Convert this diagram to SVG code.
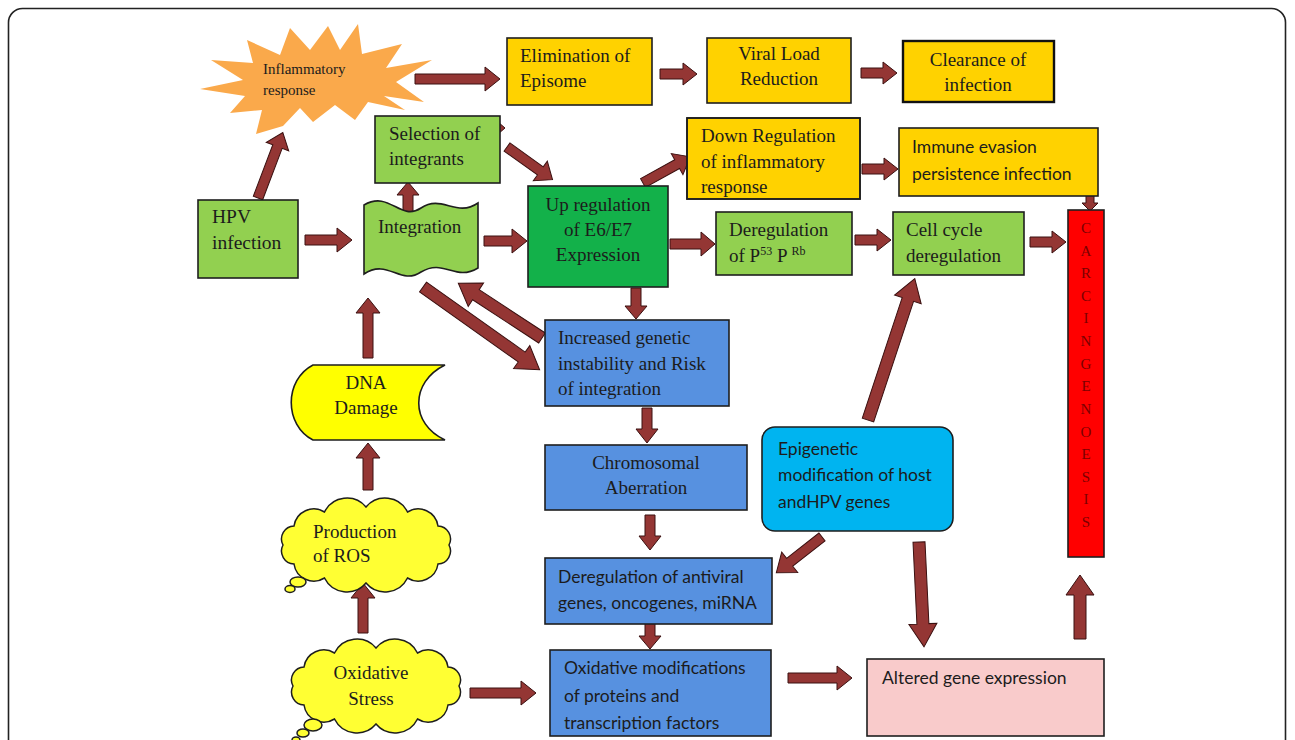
<svg xmlns="http://www.w3.org/2000/svg" width="1295" height="740" viewBox="0 0 1295 740">
<defs>
<style>
.box{stroke:#1e1e1e;stroke-width:1.6}
.lg{fill:#92D050}
.dg{fill:#13B14A}
.gold{fill:#FFD200}
.blue{fill:#5791E0}
.cyan{fill:#00B4F0}
.t{font-family:"Liberation Serif","Times New Roman",serif;font-size:19px;fill:#1c1c1c}
.s{font-family:Lato,"Liberation Sans",sans-serif;font-size:17.5px;fill:#1c1c1c}
.arr{fill:#943634;stroke:#3a1010;stroke-width:1}
.cl{fill:#FFFF33;stroke:#1e1e1e;stroke-width:1.5}
</style>
</defs>
<rect width="1295" height="740" fill="#ffffff"/>
<rect x="8.5" y="8.5" width="1277" height="780" rx="14" fill="none" stroke="#222" stroke-width="1.6"/>

<g id="connectors">
<path class="arr" transform="translate(258,198) rotate(-69.25)" d="M0,-5H55V-12L70,0L55,12V5H0Z"/>
<path class="arr" transform="translate(415,79)" d="M0,-5H70V-12L85,0L70,12V5H0Z"/>
<path class="arr" transform="translate(660,74)" d="M0,-5H23V-11L37,0L23,11V5H0Z"/>
<path class="arr" transform="translate(861,73)" d="M0,-5H22V-11L36,0L22,11V5H0Z"/>
<path class="arr" transform="translate(305,240)" d="M0,-5H32V-12L47,0L32,12V5H0Z"/>
<path class="arr" transform="translate(408,215) rotate(-90)" d="M0,-5H20V-11L33,0L20,11V5H0Z"/>
<path class="arr" transform="translate(507,147) rotate(35.65)" d="M0,-5H41V-12L56,0L41,12V5H0Z"/>
<path class="arr" transform="translate(484,241)" d="M0,-5H28V-12L43,0L28,12V5H0Z"/>
<path class="arr" transform="translate(643,183) rotate(-28.95)" d="M0,-5H39V-12L54,0L39,12V5H0Z"/>
<path class="arr" transform="translate(862,169)" d="M0,-5H22V-11L36,0L22,11V5H0Z"/>
<path class="arr" transform="translate(1090,194) rotate(90)" d="M0,-4H9V-8L17,0L9,8V4H0Z"/>
<path class="arr" transform="translate(670,244)" d="M0,-5H31V-12L45,0L31,12V5H0Z"/>
<path class="arr" transform="translate(855,240)" d="M0,-5H22V-11L36,0L22,11V5H0Z"/>
<path class="arr" transform="translate(1030,242)" d="M0,-5H22V-11L36,0L22,11V5H0Z"/>
<path class="arr" transform="translate(636,288) rotate(90)" d="M0,-5H18V-11L31,0L18,11V5H0Z"/>
<path class="arr" transform="translate(423,287) rotate(35.36)" d="M0,-6H121V-14L143,0L121,14V6H0Z"/>
<path class="arr" transform="translate(542,338) rotate(213.2)" d="M0,-6H79V-14L100,0L79,14V6H0Z"/>
<path class="arr" transform="translate(647,408) rotate(90)" d="M0,-5H21V-11L35,0L21,11V5H0Z"/>
<path class="arr" transform="translate(650,515) rotate(90)" d="M0,-5H21V-11L35,0L21,11V5H0Z"/>
<path class="arr" transform="translate(650,617) rotate(90)" d="M0,-5H19V-11L32,0L19,11V5H0Z"/>
<path class="arr" transform="translate(868,420) rotate(-71.7)" d="M0,-6H127V-14L149,0L127,14V6H0Z"/>
<path class="arr" transform="translate(822,537) rotate(141.95)" d="M0,-5H41V-13L58,0L41,13V5H0Z"/>
<path class="arr" transform="translate(919,542) rotate(87.27)" d="M0,-6H82V-14L105,0L82,14V6H0Z"/>
<path class="arr" transform="translate(1080,639) rotate(-90)" d="M0,-6H44V-14L64,0L44,14V6H0Z"/>
<path class="arr" transform="translate(788,678)" d="M0,-5H49V-12L64,0L49,12V5H0Z"/>
<path class="arr" transform="translate(368,358) rotate(-90)" d="M0,-5H45V-12L60,0L45,12V5H0Z"/>
<path class="arr" transform="translate(368,490) rotate(-90)" d="M0,-5H32V-12L47,0L32,12V5H0Z"/>
<path class="arr" transform="translate(363,633) rotate(-90)" d="M0,-5H35V-12L50,0L35,12V5H0Z"/>
<path class="arr" transform="translate(470,693)" d="M0,-5H51V-12L66,0L51,12V5H0Z"/>
<path class="arr" d="M498,122 L505,128 L498,134 Z"/>
</g>

<g id="inflammatory">
<polygon fill="#FAA94B" points="200,89 243,80 211,60 253,63 247,40 280,55 290,28 310,50 328,26 340,50 358,24 362,54 402,44 386,68 432,60 396,82 424,102 384,96 405,110 368,102 355,120 335,105 313,122 300,108 283,126 256,134 262,110 230,113 245,96"/>
<text class="t" style="font-size:15px" x="263" y="74">Inflammatory</text>
<text class="t" style="font-size:15px" x="263" y="95">response</text>
</g>

<g id="elimination">
<rect class="box gold" x="507" y="38" width="145" height="67"/>
<text class="t" x="520" y="62">Elimination of</text>
<text class="t" x="520" y="87">Episome</text>
</g>

<g id="viral-load">
<rect class="box gold" x="707" y="38" width="144" height="65"/>
<text class="t" x="779" y="60" text-anchor="middle">Viral Load</text>
<text class="t" x="779" y="85" text-anchor="middle">Reduction</text>
</g>

<g id="clearance">
<rect class="gold" x="903" y="41" width="151" height="61" stroke="#111" stroke-width="2.4"/>
<text class="t" x="978" y="66" text-anchor="middle">Clearance of</text>
<text class="t" x="978" y="91" text-anchor="middle">infection</text>
</g>

<g id="hpv-infection">
<rect class="box lg" x="198" y="200" width="100" height="78"/>
<text class="t" style="font-size:19.5px" x="212" y="223">HPV</text>
<text class="t" style="font-size:19.5px" x="212" y="249">infection</text>
</g>

<g id="integration">
<path class="box lg" d="M364,205 C390,190 400,222 421,208 C442,194 456,218 478,203 L478,268 C455,282 444,258 421,272 C400,286 388,258 364,274 Z"/>
<text class="t" x="378" y="233">Integration</text>
</g>

<g id="selection">
<rect class="box lg" x="375" y="116" width="125" height="67"/>
<text class="t" x="389" y="140">Selection of</text>
<text class="t" x="389" y="165">integrants</text>
</g>

<g id="up-regulation">
<rect class="box dg" x="528" y="186" width="140" height="101"/>
<text class="t" x="598" y="211" text-anchor="middle">Up regulation</text>
<text class="t" x="598" y="236" text-anchor="middle">of E6/E7</text>
<text class="t" x="598" y="261" text-anchor="middle">Expression</text>
</g>

<g id="down-regulation">
<clipPath id="cpDown"><rect x="687" y="118" width="173" height="81"/></clipPath>
<rect class="box gold" x="687" y="118" width="173" height="81"/>
<g clip-path="url(#cpDown)">
<text class="t" x="701" y="142">Down Regulation</text>
<text class="t" x="701" y="168">of inflammatory</text>
<text class="t" x="701" y="193">response</text>
</g>
<rect x="687" y="118" width="173" height="81" fill="none" stroke="#1e1e1e" stroke-width="1.6"/>
</g>

<g id="immune-evasion">
<rect class="box gold" x="899" y="128" width="199" height="68"/>
<text class="s" x="912" y="153">Immune evasion</text>
<text class="s" x="912" y="180">persistence infection</text>
</g>

<g id="deregulation-p53">
<rect class="box lg" x="716" y="212" width="136" height="63"/>
<text class="t" x="729" y="236">Deregulation</text>
<text class="t" x="729" y="262">of P<tspan font-size="12" dy="-7">53</tspan><tspan dy="7"> P </tspan><tspan font-size="12" dy="-7">Rb</tspan></text>
</g>

<g id="cell-cycle">
<rect class="box lg" x="893" y="212" width="131" height="63"/>
<text class="t" x="906" y="236">Cell cycle</text>
<text class="t" x="906" y="262">deregulation</text>
</g>

<g id="carcinogenesis">
<rect fill="#FF0000" stroke="#1e1e1e" stroke-width="1.6" x="1068" y="210" width="36" height="347"/>
<g class="t" style="font-size:15px;fill:#7a0000" text-anchor="middle">
<text x="1086" y="233">C</text>
<text x="1086" y="256">A</text>
<text x="1086" y="278">R</text>
<text x="1086" y="301">C</text>
<text x="1086" y="323">I</text>
<text x="1086" y="346">N</text>
<text x="1086" y="369">G</text>
<text x="1086" y="391">E</text>
<text x="1086" y="414">N</text>
<text x="1086" y="437">O</text>
<text x="1086" y="459">E</text>
<text x="1086" y="482">S</text>
<text x="1086" y="504">I</text>
<text x="1086" y="527">S</text>
</g>
</g>

<g id="genetic-instability">
<rect class="box blue" x="545" y="320" width="184" height="86"/>
<text class="t" x="558" y="344">Increased genetic</text>
<text class="t" x="558" y="370">instability and Risk</text>
<text class="t" x="558" y="395">of integration</text>
</g>

<g id="chromosomal">
<rect class="box blue" x="545" y="445" width="202" height="65"/>
<text class="t" x="646" y="469" text-anchor="middle">Chromosomal</text>
<text class="t" x="646" y="494" text-anchor="middle">Aberration</text>
</g>

<g id="deregulation-antiviral">
<rect class="box blue" x="545" y="558" width="227" height="66"/>
<text class="s" x="558" y="583">Deregulation of antiviral</text>
<text class="s" x="558" y="609">genes, oncogenes, miRNA</text>
</g>

<g id="oxidative-modifications">
<rect class="box blue" x="550" y="650" width="221" height="86"/>
<text class="s" x="564" y="674">Oxidative modifications</text>
<text class="s" x="564" y="702">of proteins and</text>
<text class="s" x="564" y="729">transcription factors</text>
</g>

<g id="epigenetic">
<rect class="cyan" stroke="#1e1e1e" stroke-width="1.6" x="762" y="427" width="191" height="104" rx="13"/>
<text class="s" x="778" y="455">Epigenetic</text>
<text class="s" x="778" y="481">modification of host</text>
<text class="s" x="778" y="508">andHPV genes</text>
</g>

<g id="altered-gene">
<rect fill="#F9CBCB" stroke="#1e1e1e" stroke-width="1.6" x="867" y="659" width="237" height="77"/>
<text class="s" x="882" y="684">Altered gene expression</text>
</g>

<g id="dna-damage">
<path fill="#FFFF00" stroke="#1e1e1e" stroke-width="1.6" d="M313,365 L445,365 C410,382 410,424 445,440 L313,440 C284,425 284,380 313,365 Z"/>
<text class="t" x="366" y="389" text-anchor="middle">DNA</text>
<text class="t" x="366" y="414" text-anchor="middle">Damage</text>
</g>

<g id="production-ros">
<path class="cl" d="M449,545 A13,13 0 0 1 438,564 A20,20 0 0 1 407.5,578 A25,25 0 0 1 366,583 A25,25 0 0 1 324.5,578 A20,20 0 0 1 294,564 A13,13 0 0 1 283,545 A13,13 0 0 1 294,526 A20,20 0 0 1 324.5,512 A25,25 0 0 1 366,507 A25,25 0 0 1 407.5,512 A20,20 0 0 1 438,526 A13,13 0 0 1 449,545 Z"/>
<ellipse class="cl" cx="298" cy="582" rx="8" ry="5"/>
<ellipse class="cl" cx="290" cy="589" rx="5" ry="3.5"/>
<text class="t" x="313" y="538">Production</text>
<text class="t" x="313" y="562">of ROS</text>
</g>

<g id="oxidative-stress">
<path class="cl" d="M459,686 A13,13 0 0 1 448,705 A20,20 0 0 1 417.5,719 A25,25 0 0 1 376,724 A25,25 0 0 1 334.5,719 A20,20 0 0 1 304,705 A13,13 0 0 1 293,686 A13,13 0 0 1 304,667 A20,20 0 0 1 334.5,653 A25,25 0 0 1 376,648 A25,25 0 0 1 417.5,653 A20,20 0 0 1 448,667 A13,13 0 0 1 459,686 Z"/>
<ellipse class="cl" cx="313" cy="725" rx="9" ry="6"/>
<ellipse class="cl" cx="303" cy="733" rx="6" ry="4"/>
<ellipse class="cl" cx="296" cy="740" rx="4" ry="3"/>
<text class="t" x="371" y="679" text-anchor="middle">Oxidative</text>
<text class="t" x="371" y="705" text-anchor="middle">Stress</text>
</g>
</svg>
